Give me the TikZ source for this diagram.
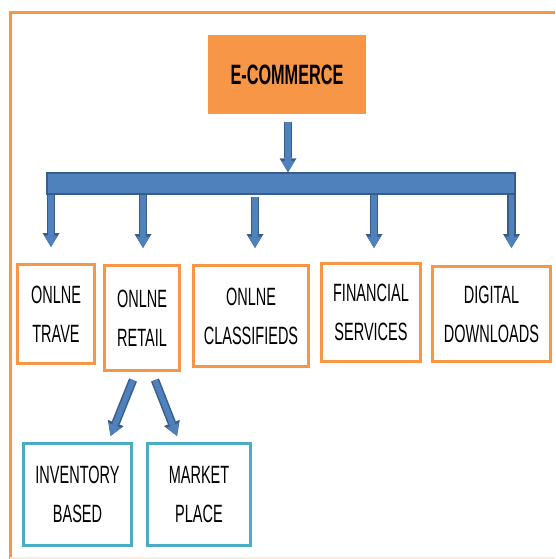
\documentclass[tikz,border=0pt]{standalone}
\usepackage{fontspec}
\setmainfont[FakeStretch=0.58]{Liberation Sans}
\usetikzlibrary{arrows.meta}
\definecolor{boxorange}{HTML}{F79646}
\definecolor{barblue}{HTML}{4F81BD}
\definecolor{baredge}{HTML}{385D8A}
\definecolor{subteal}{HTML}{4BACC6}
\begin{document}
\begin{tikzpicture}[x=1pt,y=-1pt,
    every node/.style={align=center,font=\fontsize{25}{39}\selectfont,inner sep=0pt},
    topbox/.style={fill=boxorange,font=\bfseries\fontsize{28}{30}\selectfont},
    kindbox/.style={draw=boxorange,line width=3pt},
    subbox/.style={draw=subteal,line width=3pt},
    blockarrow/.style={draw=barblue,line width=5.5pt,-{Triangle[width=13pt,length=11.5pt,line width=0pt]},
      preaction={draw=baredge,line width=8.5pt,-{Triangle[width=17pt,length=14pt,line width=0pt]}}}]
  \useasboundingbox (0,0) rectangle (555,559);
  % frame
  \draw[boxorange,line width=3pt] (555,13) -- (10,13) -- (10,559);
  \draw[boxorange!20,line width=2pt] (10,558) -- (555,558);
  \draw
    (287,74.5) node[topbox,minimum width=158,minimum height=79] (ecom){E-COMMERCE}
    (281,183.5) node[fill=barblue,draw=baredge,line width=1.5pt,minimum width=468,minimum height=21] (bar){}
    (56,314) node[kindbox,minimum width=77,minimum height=99] (travel){ONLNE\\TRAVE}
    (142,318) node[kindbox,minimum width=75,minimum height=105] (retail){ONLNE\\RETAIL}
    (251,316) node[kindbox,minimum width=115,minimum height=101] (classified){ONLNE\\CLASSIFIEDS}
    (371,312.5) node[kindbox,minimum width=99,minimum height=98] (finance){FINANCIAL\\SERVICES}
    (491.5,314) node[kindbox,minimum width=118,minimum height=95] (digital){DIGITAL\\DOWNLOADS}
    (77.5,494.5) node[subbox,minimum width=108,minimum height=102] (inventory){INVENTORY\\BASED}
    (199,494.5) node[subbox,minimum width=103,minimum height=102] (market){MARKET\\PLACE};
  % arrows
  \draw[blockarrow] ([xshift=1pt,yshift=-8pt]ecom.south) -- ([xshift=1pt]ecom.south |- bar.north);
  \draw[blockarrow] ([xshift=-5pt]travel.north |- bar.south) -- ([xshift=-5pt,yshift=16pt]travel.north);
  \draw[blockarrow] ([xshift=1pt]retail.north |- bar.south) -- ([xshift=1pt,yshift=16pt]retail.north |- classified.north);
  \draw[blockarrow] ([xshift=4pt,yshift=-2pt]classified.north |- bar.south) -- ([xshift=4pt,yshift=16pt]classified.north);
  \draw[blockarrow] ([xshift=3pt]finance.north |- bar.south) -- ([xshift=3pt,yshift=16pt]classified.north -| finance.north);
  \draw[blockarrow] ([xshift=20pt]digital.north |- bar.south) -- ([xshift=20pt,yshift=16pt]classified.north -| digital.north);
  \draw[blockarrow] ([xshift=-9pt,yshift=-8pt]retail.south) -- ([xshift=33pt,yshift=6pt]inventory.north);
  \draw[blockarrow] ([xshift=13pt,yshift=-8pt]retail.south) -- ([xshift=-22pt,yshift=6pt]market.north);
\end{tikzpicture}
\end{document}
